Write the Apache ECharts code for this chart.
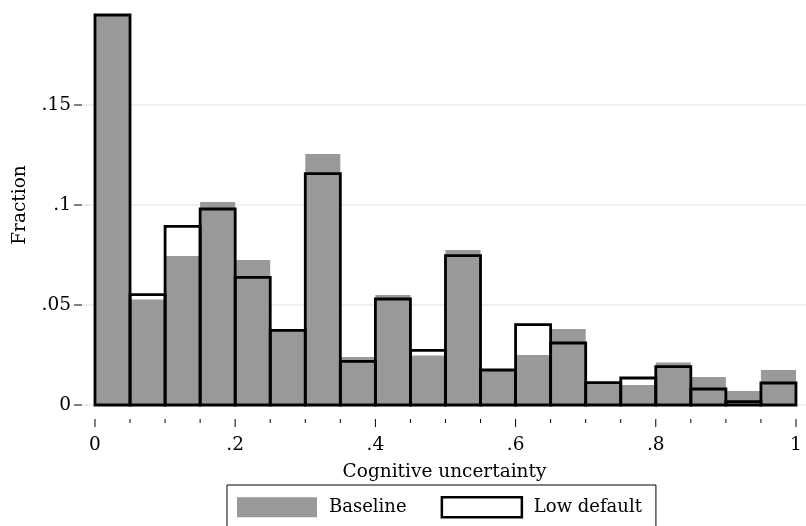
<!DOCTYPE html>
<html><head><meta charset="utf-8">
<script src="https://cdn.jsdelivr.net/npm/echarts@6/dist/echarts.min.js"></script>
<style>html,body{margin:0;padding:0;background:#fff}#c{width:806px;height:526px}</style>
</head><body><div id="c"></div>
<script>
// Histogram bins (left edges), width 0.05
const binStarts = [0,0.05,0.1,0.15,0.2,0.25,0.3,0.35,0.4,0.45,0.5,0.55,0.6,0.65,0.7,0.75,0.8,0.85,0.9,0.95];
const binWidth = 0.05;
const baseline = [0.195,0.0528,0.0745,0.1015,0.0725,0.0373,0.1255,0.024,0.055,0.0247,0.0775,0.0175,0.025,0.038,0.011,0.010,0.0212,0.014,0.007,0.0175];
const lowDefault = [0.195,0.0552,0.0893,0.098,0.0638,0.0373,0.1157,0.0218,0.053,0.0273,0.0747,0.0175,0.0402,0.031,0.0112,0.0135,0.0192,0.008,0.0017,0.011];
const xMajorTicks = [0,0.2,0.4,0.6,0.8,1];
const xMinorTicks = [0.05,0.1,0.15,0.25,0.3,0.35,0.45,0.5,0.55,0.65,0.7,0.75,0.85,0.9,0.95];
const yTicks = [0,0.05,0.1,0.15];

const X_MIN = -0.0171, X_MAX = 1.0143;
const FONT = 'DejaVu Serif';
const FS = 18.5;
const fmt = v => { const r = Math.round(v*100)/100; if (r === 0) return '0'; if (r === 1) return '1'; return String(r).replace(/^0/, ''); };

const toData = arr => arr.map((v,i) => [binStarts[i], binStarts[i]+binWidth, v]);
function makeRender(style) {
  return function(params, api) {
    const p0 = api.coord([api.value(0), api.value(2)]);
    const p1 = api.coord([api.value(1), 0]);
    return {type:'rect', shape:{x:p0[0], y:p0[1], width:p1[0]-p0[0], height:p1[1]-p0[1]}, style: style};
  };
}
// axis ticks placed through the axis scales
function xTickRender(len) {
  return function(params, api) {
    const p = api.coord([api.value(0), 0]);
    return {type:'line', shape:{x1:p[0], y1:p[1]+14, x2:p[0], y2:p[1]+14+len}, style:{stroke:'#000', lineWidth:1}};
  };
}
function yTickRender(params, api) {
  const p = api.coord([X_MIN, api.value(0)]);
  return {type:'line', shape:{x1:p[0]-9, y1:p[1], x2:p[0]-1, y2:p[1]}, style:{stroke:'#000', lineWidth:1}};
}

const chart = echarts.init(document.getElementById('c'), null, {renderer:'canvas'});
chart.setOption({
  animation:false,
  textStyle:{fontFamily:FONT},
  grid:{left:83, right:0, top:5, bottom:121, containLabel:false, outerBoundsMode:'none'},
  xAxis:{type:'value', min:X_MIN, max:X_MAX, position:'bottom', offset:14,
    axisLine:{show:false}, splitLine:{show:false}, axisTick:{show:false},
    name:'Cognitive uncertainty', nameLocation:'middle', nameGap:44,
    nameTextStyle:{fontFamily:FONT, fontSize:FS, color:'#000'},
    axisLabel:{show:true, customValues:xMajorTicks, formatter:fmt, margin:17, fontFamily:FONT, fontSize:FS, color:'#000'}
  },
  yAxis:{type:'value', min:0, max:0.2, interval:0.05, position:'left',
    name:'Fraction', nameLocation:'middle', nameGap:53,
    nameTextStyle:{fontFamily:FONT, fontSize:FS, color:'#000'},
    axisLine:{show:false}, axisTick:{show:false},
    axisLabel:{show:true, customValues:yTicks, formatter:fmt, margin:12, fontFamily:FONT, fontSize:FS, color:'#000'},
    splitLine:{show:true, showMaxLine:false, lineStyle:{color:'#eaeaea', width:1.5}}
  },
  legend:{
    left:227, top:485, orient:'horizontal',
    padding:[11,14,12,10], borderColor:'#000', borderWidth:1,
    itemWidth:80, itemHeight:20, itemGap:34,
    textStyle:{fontFamily:FONT, fontSize:18, color:'#000', padding:[0,0,0,7]},
    data:[
      {name:'Baseline', icon:'rect', itemStyle:{color:'#999999', borderWidth:0}},
      {name:'Low default', icon:'rect', itemStyle:{color:'#ffffff', borderColor:'#000', borderWidth:2.5}}
    ]
  },
  series:[
    {name:'Baseline', type:'custom', data:toData(baseline), itemStyle:{color:'#999999'},
      renderItem: makeRender({fill:'#999999', stroke:null})},
    {name:'Low default', type:'custom', data:toData(lowDefault), itemStyle:{color:'#ffffff', borderColor:'#000'},
      renderItem: makeRender({fill:'none', stroke:'#000', lineWidth:2.8})},
    {name:'xMajor', type:'custom', clip:false, silent:true, data:xMajorTicks.map(v=>[v]), encode:{x:0}, renderItem:xTickRender(8)},
    {name:'xMinor', type:'custom', clip:false, silent:true, data:xMinorTicks.map(v=>[v]), encode:{x:0}, renderItem:xTickRender(4)},
    {name:'yTicks', type:'custom', clip:false, silent:true, data:yTicks.map(v=>[v]), encode:{y:0}, renderItem:yTickRender}
  ]
});
</script></body></html>
